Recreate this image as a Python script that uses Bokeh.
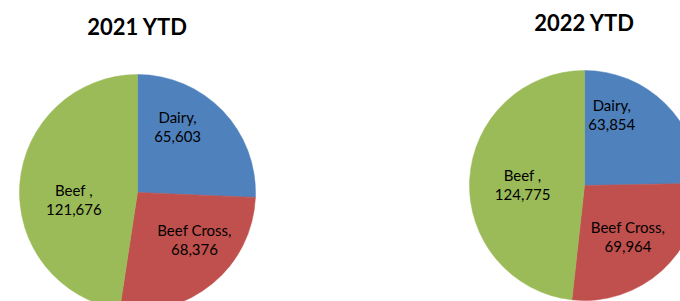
import math
from bokeh.plotting import figure
from bokeh.models import Range1d
from bokeh.core.properties import value
from bokeh.embed import file_html
from bokeh.resources import INLINE

# ---- data ----
categories = ["Dairy", "Beef Cross", "Beef "]
values_2021 = [65603, 68376, 121676]
values_2022 = [63854, 69964, 124775]
titles = ["2021 YTD", "2022 YTD"]
colors = ["#4F81BD", "#C0504D", "#9BBB59"]

W, H = 680, 301
p = figure(width=W, height=H, output_backend="svg", toolbar_location=None,
           x_range=Range1d(0, W), y_range=Range1d(301 - H, 301),
           min_border=0)
p.axis.visible = False
p.grid.visible = False
p.outline_line_color = None
p.background_fill_color = "white"
p.border_fill_color = "white"

FONT = "Lato"

# pie layout (data y = 301 - screen y)
pies = [
    dict(vals=values_2021, title=titles[0], cx=137, cy=301 - 192, r=118, ty=301 - 26,
         nudges=[(-11, 17), (12, 8), (7, -12)]),
    dict(vals=values_2022, title=titles[1], cx=584, cy=301 - 185, r=115, ty=301 - 22,
         nudges=[(-21, 22), (-3, 0), (7, -3)]),
]

for pie in pies:
    vals = pie["vals"]
    total = float(sum(vals))
    starts, ends, lx, ly, labels = [], [], [], [], []
    cum = 0.0
    for i, v in enumerate(vals):
        a0 = cum / total * 2 * math.pi
        cum += v
        a1 = cum / total * 2 * math.pi
        starts.append(math.pi / 2 - a0)
        ends.append(math.pi / 2 - a1)
        mid = (a0 + a1) / 2
        f = 0.6 * pie["r"]
        dx, dy = pie["nudges"][i]
        lx.append(pie["cx"] + f * math.sin(mid) + dx)
        ly.append(pie["cy"] + f * math.cos(mid) + dy)
        labels.append(f"{categories[i]},\n{v:,}")
    p.wedge(x=pie["cx"], y=pie["cy"], radius=pie["r"], start_angle=starts,
            end_angle=ends, direction="clock", fill_color=colors,
            line_color=colors, line_width=0.5)
    p.text(x=lx, y=ly, text=labels, text_align="center", text_baseline="middle",
           text_font=value(FONT), text_font_size="15px", text_color="black",
           text_line_height=1.05)
    p.text(x=[pie["cx"]], y=[pie["ty"]], text=[pie["title"]], text_align="center",
           text_baseline="middle", text_font=value(FONT), text_font_size="22px",
           text_font_style="bold", text_color="black")

open("out.html", "w").write(file_html(p, INLINE))
